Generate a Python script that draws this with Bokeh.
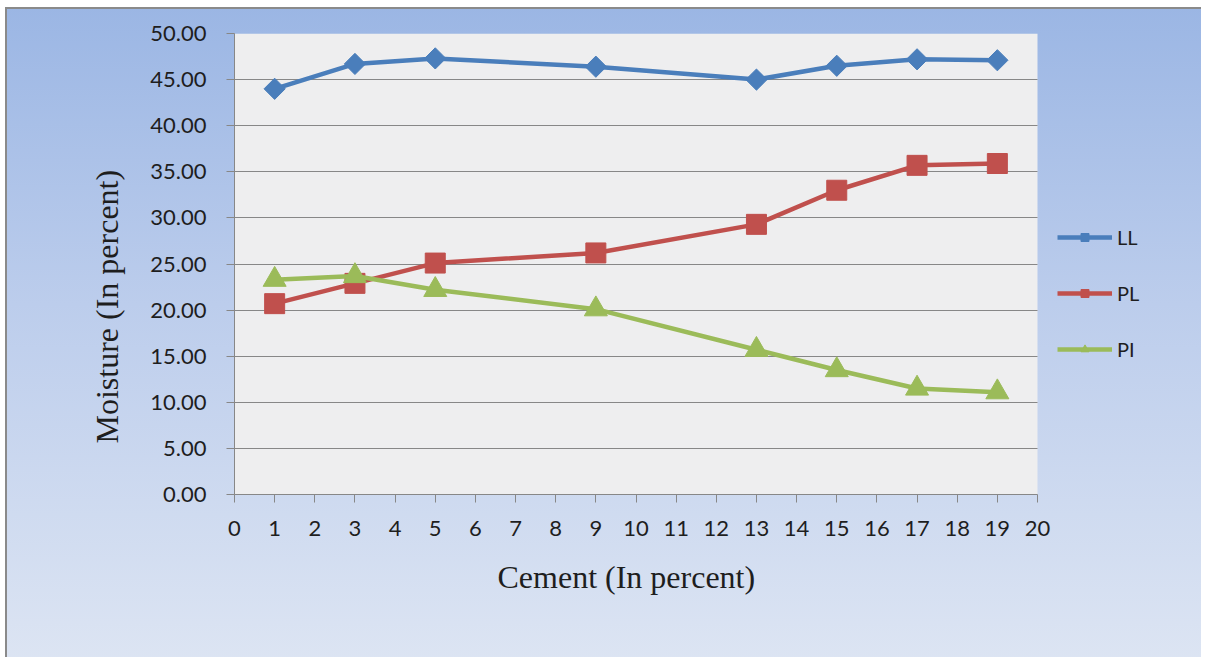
from math import pi

from bokeh.embed import file_html
from bokeh.models import (BoxAnnotation, FixedTicker, Legend, LegendItem,
                          PrintfTickFormatter, Range1d, Title)
from bokeh.plotting import figure
from bokeh.resources import INLINE

# Atterberg limits of the soil against cement content
cement = [1, 3, 5, 9, 13, 15, 17, 19]
ll = [44.0, 46.7, 47.3, 46.4, 45.0, 46.5, 47.2, 47.1]
pl = [20.7, 22.9, 25.1, 26.2, 29.3, 33.0, 35.7, 35.9]
pi_vals = [23.3, 23.7, 22.2, 20.1, 15.7, 13.5, 11.5, 11.1]

y_ticks = [0, 5, 10, 15, 20, 25, 30, 35, 40, 45, 50]
x_ticks = list(range(0, 21))
x_min, x_max = 0, 20
y_min, y_max = 0, 50

series_names = ["LL", "PL", "PI"]
series_colors = ["#4a7ebb", "#c0504d", "#9bbb59"]

TICK_FONT = "Lato"
TITLE_FONT = "Liberation Serif"
TEXT_COLOR = "#1e1e1e"
GRID_COLOR = "#878787"

# the frame runs on past x=20 so the legend can sit inside it, to the right
PLOT_LEFT, PLOT_RIGHT = 234, 1037
FRAME_RIGHT = 1190
px_per_unit = (PLOT_RIGHT - PLOT_LEFT) / (x_max - x_min)
x_end = x_max + (FRAME_RIGHT - PLOT_RIGHT) / px_per_unit

p = figure(
    width=1205,
    height=657,
    x_range=Range1d(x_min, x_end),
    y_range=Range1d(y_min, y_max),
    output_backend="svg",
    toolbar_location=None,
    min_border_left=PLOT_LEFT,
    min_border_right=1205 - FRAME_RIGHT,
    min_border_top=33,
    min_border_bottom=163,
)

# chart-area gradient with a thin grey edge on the left and top
p.styles = {
    "background": (
        "linear-gradient(#8a8a8a, #8a8a8a) 5px 7px / 2px 660px no-repeat, "
        "linear-gradient(#8a8a8a, #8a8a8a) 5px 7px / 1196px 2px no-repeat, "
        "linear-gradient(to bottom, #9bb6e4 0%, #bccdec 45%, #dde5f3 100%) 5px 7px / 1196px 660px no-repeat, "
        "#ffffff"
    )
}
p.border_fill_alpha = 0
p.background_fill_alpha = 0
p.outline_line_color = None

# pale plot-area panel behind the grid
p.add_layout(BoxAnnotation(
    left=x_min, right=x_max, bottom=y_min, top=y_max,
    fill_color="#eeeeef", fill_alpha=1, line_color=None, level="image",
))

# axes
p.yaxis.ticker = FixedTicker(ticks=y_ticks)
p.yaxis.formatter = PrintfTickFormatter(format="%.2f")
p.xaxis.ticker = FixedTicker(ticks=x_ticks)
p.xaxis.bounds = (x_min, x_max)
for ax in (p.xaxis[0], p.yaxis[0]):
    ax.axis_line_color = GRID_COLOR
    ax.axis_line_width = 1
    ax.major_tick_line_color = GRID_COLOR
    ax.major_tick_out = 8
    ax.major_tick_in = 0
    ax.minor_tick_line_color = None
    ax.major_label_text_font = TICK_FONT
    ax.major_label_text_font_size = "22px"
    ax.major_label_text_color = TEXT_COLOR
p.yaxis.major_label_standoff = 20
p.xaxis.major_label_standoff = 18

p.xgrid.grid_line_color = None
p.ygrid.grid_line_color = GRID_COLOR
p.ygrid.grid_line_width = 1
p.ygrid.cross_bounds = (x_min, x_max)

# series
renderers = []
for name, vals, color, marker, size, angle in [
    ("LL", ll, series_colors[0], "square", 15, pi / 4),
    ("PL", pl, series_colors[1], "square", 20, 0),
    ("PI", pi_vals, series_colors[2], "triangle", 23, 0),
]:
    ln = p.line(cement, vals, line_color=color, line_width=4.5, line_join="round")
    sc = p.scatter(cement, vals, marker=marker, size=size, angle=angle,
                   fill_color=color, line_color=color)
    renderers.append((name, [ln, sc]))

legend = Legend(
    items=[LegendItem(label=n, renderers=r) for n, r in renderers],
    location=(823, 133),
    orientation="vertical",
    glyph_width=55,
    glyph_height=20,
    label_height=20,
    label_standoff=5,
    spacing=32,
    padding=0,
    margin=0,
    border_line_color=None,
    background_fill_alpha=0,
    label_text_font=TICK_FONT,
    label_text_font_size="20px",
    label_text_color=TEXT_COLOR,
)
p.add_layout(legend)

# axis titles
title_style = dict(
    text_font=TITLE_FONT,
    text_font_size="32px",
    text_font_style="normal",
    text_color=TEXT_COLOR,
)
y_title = Title(text="Moisture (In percent)", align="left", offset=51, standoff=46, **title_style)
p.add_layout(y_title, "left")
x_title = Title(text="Cement (In percent)", align="left", offset=263, standoff=37, **title_style)
p.add_layout(x_title, "below")

open("out.html", "w").write(file_html(p, INLINE))
